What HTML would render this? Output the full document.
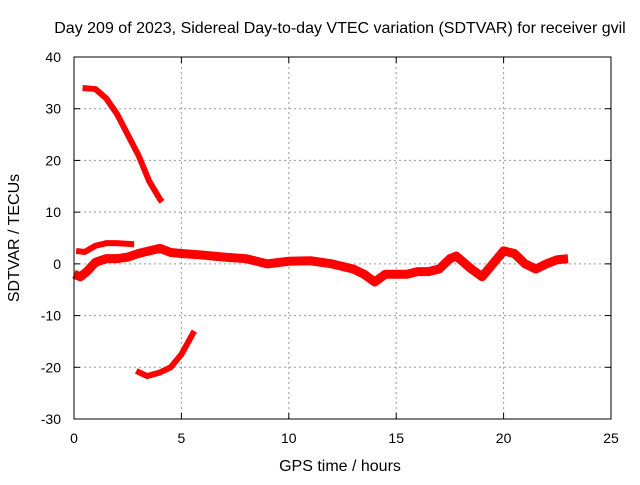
<!DOCTYPE html>
<html><head><meta charset="utf-8"><style>
body{margin:0;background:#fff;}
svg text{font-family:"Liberation Sans",sans-serif;font-size:14px;fill:#000;}
svg text.big{font-size:16px;}
</style></head><body>
<svg id="chart" width="640" height="480" xmlns="http://www.w3.org/2000/svg">
<rect width="640" height="480" fill="#fff"/>
<text class="big" x="340" y="33" text-anchor="middle">Day 209 of 2023, Sidereal Day-to-day VTEC variation (SDTVAR) for receiver gvil</text>
<g id="grid"></g>
<g id="series"></g>
<rect x="74" y="57" width="537" height="362" fill="none" stroke="#000" stroke-width="1"/>
<g id="ticks"></g>
<text class="big" x="340" y="471" text-anchor="middle">GPS time / hours</text>
<text class="big" transform="translate(19,238) rotate(-90)" text-anchor="middle">SDTVAR / TECUs</text>
</svg>
<script>
const xTicks=[0,5,10,15,20,25];
const yTicks=[40,30,20,10,0,-10,-20,-30];
const seriesAX=[0.4,1,1.5,2,2.5,3,3.5,4,4.1];
const seriesAY=[34,33.8,32,29,25,21,16,12.5,12];
const seriesBX=[2.9,3.4,4,4.5,5,5.6];
const seriesBY=[-20.7,-21.7,-21,-20,-17.5,-13];
const seriesCX=[0.1,0.5,1,1.5,2,2.8];
const seriesCY=[2.5,2.3,3.5,4,4,3.8];
const seriesDX=[0,0.3,0.6,1,1.5,2,2.5,3,3.5,4,4.5,5,6,7,8,9,10,11,12,13,13.5,14,14.5,15,15.5,16,16.5,17,17.5,17.8,18.5,19,19.5,20,20.5,21,21.5,22,22.5,23];
const seriesDY=[-2,-2.5,-1.5,0.3,1,1,1.3,2,2.5,3,2.2,2,1.7,1.3,1,0,0.5,0.6,0,-1,-2,-3.5,-2,-2,-2,-1.5,-1.5,-1,1,1.5,-1,-2.5,0,2.5,2,0,-1,0,0.8,1];
const X=v=>74+v*537/25;
const Y=v=>57+(40-v)*362/70;
const NS='http://www.w3.org/2000/svg';
const grid=document.getElementById('grid'),ticks=document.getElementById('ticks'),ser=document.getElementById('series');
function mk(t,a,p){const e=document.createElementNS(NS,t);for(const k in a)e.setAttribute(k,a[k]);p.appendChild(e);return e;}
xTicks.forEach(v=>{
  if(v>0&&v<25){const g=mk('line',{x1:X(v),x2:X(v),y1:57,y2:419,stroke:'#999','stroke-dasharray':'2,3'},grid);
  
  }
  mk('line',{x1:X(v),x2:X(v),y1:419,y2:413,stroke:'#000'},ticks);
  mk('line',{x1:X(v),x2:X(v),y1:57,y2:63,stroke:'#000'},ticks);
  const t=mk('text',{x:X(v),y:443,'text-anchor':'middle'},ticks);t.textContent=v;
  
  
});
yTicks.forEach(v=>{
  if(v<40&&v>-30){const g=mk('line',{x1:74,x2:611,y1:Y(v),y2:Y(v),stroke:'#999','stroke-dasharray':'2,3'},grid);
  
  }
  mk('line',{x1:74,x2:80,y1:Y(v),y2:Y(v),stroke:'#000'},ticks);
  mk('line',{x1:605,x2:611,y1:Y(v),y2:Y(v),stroke:'#000'},ticks);
  const t=mk('text',{x:61,y:Y(v)+5,'text-anchor':'end'},ticks);t.textContent=v;
  
  
});
[[seriesAX,seriesAY,'series-a',6],[seriesBX,seriesBY,'series-b',6],[seriesCX,seriesCY,'series-c',6],[seriesDX,seriesDY,'series-main',9]].forEach(s=>{
  const pts=s[0].map((x,i)=>X(x)+','+Y(s[1][i])).join(' ');
  const p=mk('polyline',{points:pts,fill:'none',stroke:'#f00','stroke-width':s[3],'stroke-linejoin':'round'},ser);
  
  
});
</script>
</body></html>
